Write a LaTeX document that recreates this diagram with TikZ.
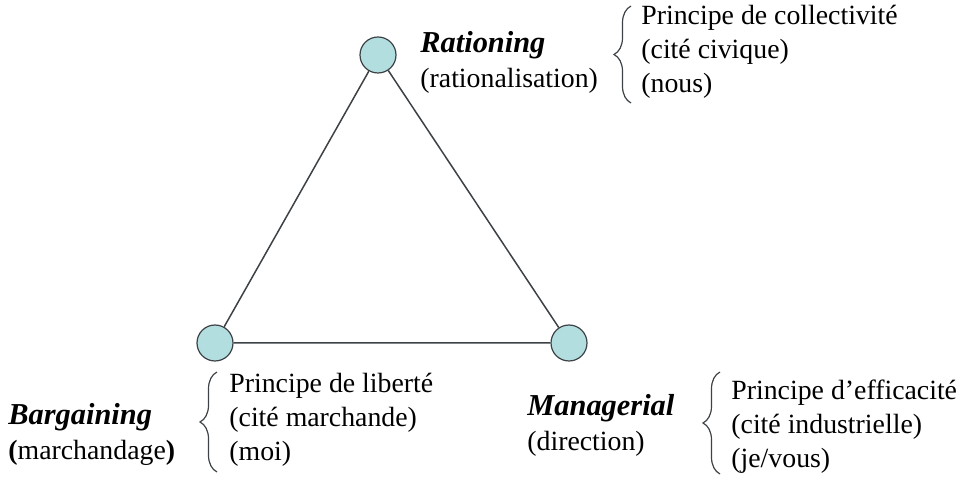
\documentclass[tikz,border=0pt]{standalone}
\usepackage{fontspec}
\setmainfont{Liberation Serif}
\usepackage{xcolor}
\usetikzlibrary{decorations.pathreplacing}
\definecolor{mycyan}{RGB}{179,222,224}
\definecolor{mygray}{RGB}{60,66,70}
\newcommand{\polename}[1]{{\fontsize{15.2}{17.5}\selectfont\bfseries\itshape #1}}

\begin{document}
\begin{tikzpicture}[x=0.5pt, y=-0.5pt,
 pole/.style={circle, draw=mygray, fill=mycyan, line width=0.6pt, minimum size=18pt, inner sep=0pt},
 lbl/.style={anchor=west, align=left, inner sep=0pt, font=\fontsize{13.9}{17.5}\selectfont},
 prin/.style={anchor=west, align=left, inner sep=0pt, font=\fontsize{13.9}{17}\selectfont},
 brc/.style={decorate, decoration={brace, amplitude=8.5pt}, draw=mygray, line width=0.6pt}]
 \useasboundingbox (0,0) rectangle (965,496);

 %poles:
 \node[pole] (ratio) at (378,55) {};
 \node[pole] (barg) at (215,343) {};
 \node[pole] (manag) at (569,343) {};

 %sides
 \draw[mygray, line width=0.75pt] (ratio) -- (barg) -- (manag) -- (ratio);

 %names
 \node[lbl] (rationame) at (420,62) {\polename{Rationing}\\(rationalisation)};
 \node[lbl] (bargname) at (8,434) {\polename{Bargaining}\\\textbf{(}marchandage\textbf{)}};
 \node[lbl] (managname) at (527,425) {\polename{Managerial}\\(direction)};

 %braces
 \draw[brc] (631,103) -- (631,6);
 \draw[brc] (217,472) -- (217,372);
 \draw[brc] (720,474) -- (720,372);

 %principles
 \node[prin] (ratioprin) at (641,52) {Principe de collectivité\\(cité civique)\\(nous)};
 \node[prin] (bargprin) at (229,420) {Principe de liberté\\(cité marchande)\\(moi)};
 \node[prin] (managprin) at (731,427) {Principe d’efficacité\\(cité industrielle)\\(je/vous)};
\end{tikzpicture}
\end{document}
